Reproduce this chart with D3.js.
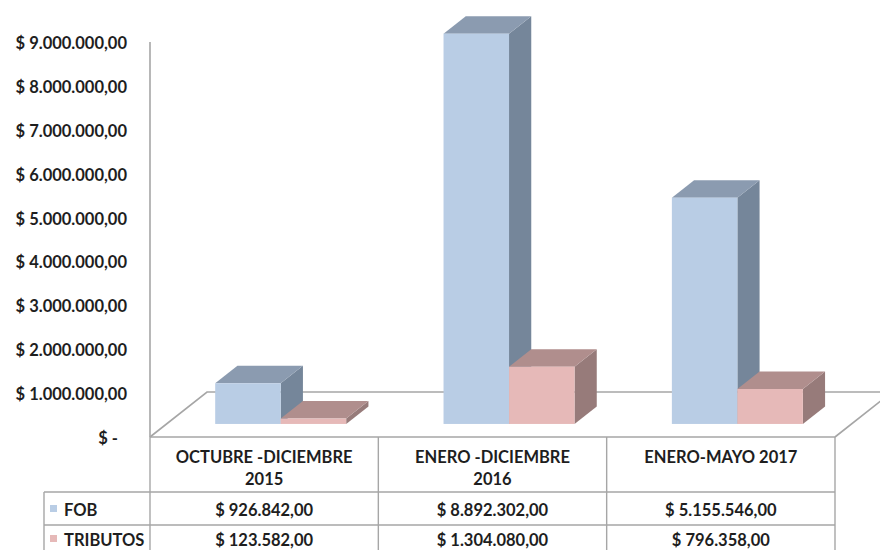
<!DOCTYPE html>
<html>
<head>
<meta charset="utf-8">
<script src="https://cdn.jsdelivr.net/npm/d3@7"></script>
<style>
  html, body { margin: 0; padding: 0; background: #fff; }
  svg { display: block; }
  text { font-family: Lato, "Open Sans", sans-serif; font-weight: bold; fill: #1e1e1e; }
</style>
</head>
<body>
<svg id="chart" width="880" height="550"></svg>
<script>
const categories = [["OCTUBRE -DICIEMBRE", "2015"], ["ENERO -DICIEMBRE", "2016"], ["ENERO-MAYO 2017"]];
const seriesNames = ["FOB", "TRIBUTOS"];
const fob = [926842, 8892302, 5155546];
const tributos = [123582, 1304080, 796358];
const yTicks = [0, 1000000, 2000000, 3000000, 4000000, 5000000, 6000000, 7000000, 8000000, 9000000];

const seriesValues = [fob, tributos];
const colors = {
  FOB: { front: "#b9cde5", top: "#8b9bb0", side: "#75869a" },
  TRIBUTOS: { front: "#e6b9b8", top: "#b08e8d", side: "#977b7a" }
};

const svg = d3.select("#chart");
const locale = d3.formatLocale({ decimal: ",", thousands: ".", grouping: [3], currency: ["$ ", ""] });
const fmt = locale.format("$,.2f");

const left = 150, right = 835, floorY = 437;
const depth = { dx: 57, dy: -45 };
const f1 = 0.29, f2 = 0.68;
const fs = 16.5;

const y = d3.scaleLinear().domain([0, 9000000]).range([floorY, 42]);
const x = d3.scaleBand().domain(d3.range(categories.length)).range([left, right]);
const groupW = 131;
const xs = d3.scaleBand().domain(seriesNames).range([0, groupW]);

const lineColor = "#a6a6a6";

// floor
const g = svg.append("g");
g.append("path")
  .attr("d", `M${left},${floorY} L${left + depth.dx},${floorY + depth.dy} L${right + depth.dx},${floorY + depth.dy} L${right},${floorY}`)
  .attr("fill", "#fff").attr("stroke", lineColor).attr("stroke-width", 1.6);

// vertical axis
g.append("line").attr("x1", left).attr("x2", left).attr("y1", y(9000000)).attr("y2", floorY)
  .attr("stroke", lineColor).attr("stroke-width", 1.6);

// y tick labels
g.selectAll("text.ytick").data(yTicks).enter().append("text")
  .attr("class", "ytick")
  .attr("x", d => d === 0 ? 118 : 127)
  .attr("y", d => y(d) + 1)
  .attr("text-anchor", "end")
  .attr("dominant-baseline", "central")
  .attr("font-size", fs)
  .text(d => d === 0 ? "$ -" : fmt(d));

// bars
const bars = [];
categories.forEach((c, i) => {
  seriesNames.forEach((s, j) => {
    bars.push({ i, s, v: seriesValues[j][i] });
  });
});
const ddx = (f2 - f1) * depth.dx, ddy = (f2 - f1) * depth.dy;
const barG = g.append("g");
bars.forEach(b => {
  const center = x(b.i) + x.bandwidth() / 2;
  const x0 = center - groupW / 2 + xs(b.s) + f1 * depth.dx;
  const w = xs.bandwidth();
  const yt = y(b.v) + f1 * depth.dy;
  const yb = y(0) + f1 * depth.dy;
  const c = colors[b.s];
  barG.append("path")
    .attr("d", `M${x0 + w},${yt} L${x0 + w + ddx},${yt + ddy} L${x0 + w + ddx},${yb + ddy} L${x0 + w},${yb} Z`)
    .attr("fill", c.side);
  barG.append("path")
    .attr("d", `M${x0},${yt} L${x0 + w},${yt} L${x0 + w + ddx},${yt + ddy} L${x0 + ddx},${yt + ddy} Z`)
    .attr("fill", c.top);
  barG.append("rect")
    .attr("x", x0).attr("y", yt).attr("width", w).attr("height", yb - yt)
    .attr("fill", c.front);
});

// data table
const tableLeft = 44;
const headerBottom = 492, row1Bottom = 525, row2Bottom = 560;
const tg = svg.append("g");
tg.append("line").attr("x1", left).attr("x2", right).attr("y1", floorY).attr("y2", floorY)
  .attr("stroke", lineColor).attr("stroke-width", 1.6);
[headerBottom, row1Bottom].forEach(yy => {
  tg.append("line").attr("x1", tableLeft).attr("x2", right).attr("y1", yy).attr("y2", yy)
    .attr("stroke", lineColor).attr("stroke-width", 1.4);
});
tg.append("line").attr("x1", tableLeft).attr("x2", tableLeft).attr("y1", headerBottom).attr("y2", row2Bottom)
  .attr("stroke", lineColor).attr("stroke-width", 1.4);
d3.range(categories.length + 1).forEach(k => {
  const xx = k < categories.length ? x(k) : right;
  tg.append("line").attr("x1", xx).attr("x2", xx).attr("y1", floorY).attr("y2", row2Bottom)
    .attr("stroke", lineColor).attr("stroke-width", 1.4);
});

// header labels
categories.forEach((c, i) => {
  const cx = x(i) + x.bandwidth() / 2;
  c.forEach((line, k) => {
    tg.append("text").attr("x", cx).attr("y", 457 + k * 22)
      .attr("text-anchor", "middle").attr("dominant-baseline", "central")
      .attr("font-size", fs).text(line);
  });
});

// rows
const rowCenters = [509, 539];
seriesNames.forEach((s, j) => {
  tg.append("rect").attr("x", 50).attr("y", rowCenters[j] - 4).attr("width", 7).attr("height", 7)
    .attr("fill", colors[s].front);
  tg.append("text").attr("x", 64).attr("y", rowCenters[j] + 1)
    .attr("dominant-baseline", "central").attr("font-size", fs).text(s);
  seriesValues[j].forEach((v, i) => {
    tg.append("text").attr("x", x(i) + x.bandwidth() / 2).attr("y", rowCenters[j] + 1)
      .attr("text-anchor", "middle").attr("dominant-baseline", "central")
      .attr("font-size", fs).text(fmt(v));
  });
});
</script>
</body>
</html>
